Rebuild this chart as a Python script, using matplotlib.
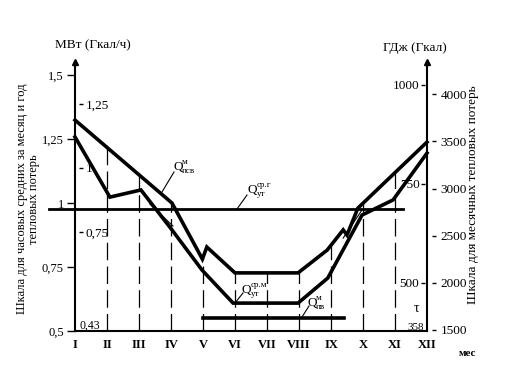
import numpy as np
import matplotlib
matplotlib.use("Agg")
import matplotlib.pyplot as plt

plt.rcParams['font.family'] = ['Liberation Serif', 'DejaVu Serif']

# месяцы
months = np.arange(1, 13)
month_names = ['I', 'II', 'III', 'IV', 'V', 'VI', 'VII', 'VIII', 'IX', 'X', 'XI', 'XII']

# Q^м_псв, МВт (верхняя ломаная)
psv_t = [1.0, 4.03, 4.98, 5.12, 6.0, 7.97, 8.88, 9.38, 9.5, 9.84, 12.0]
psv_q = [1.324, 1.0, 0.781, 0.828, 0.727, 0.727, 0.816, 0.895, 0.875, 0.98, 1.238]

# Q^ср.м_ут, МВт (нижняя ломаная)
ut_t = [1.0, 2.09, 3.06, 4.03, 4.97, 5.94, 7.97, 8.9, 9.97, 10.94, 12.0]
ut_q = [1.258, 1.023, 1.051, 0.895, 0.738, 0.609, 0.609, 0.707, 0.953, 1.012, 1.195]

# тонкие линии возле IV и X
thin_t = [[3.34, 4.06], [9.38, 9.97]]
thin_q = [[0.996, 0.91], [0.863, 0.973]]

# Q^ср.г_ут
year_q = 0.975
year_t = [0.19, 11.25]

# Q^м_пв
pv_q = 0.551
pv_t = [5.0, 9.4]

# шкалы
mw_ticks = [0.5, 0.75, 1.0, 1.25, 1.5]
mw_labels = ['0,5', '0,75', '1', '1,25', '1,5']
gcalh_ticks = [0.75, 1.0, 1.25]
gcalh_labels = ['0,75', '1', '1,25']
gj_ticks = [500, 750, 1000]
gcal_ticks = [1500, 2000, 2500, 3000, 3500, 4000]

W, H = 521, 380
fig = plt.figure(figsize=(W / 100, H / 100), dpi=100)
ax = fig.add_axes([75 / W, 1 - 331 / H, 352 / W, 269 / H])
ax.set_xlim(1, 12)
ytop = 0.5 + 269 / 256
ax.set_ylim(0.5, ytop)


def px(x, y):
    # пиксели картинки -> координаты осей
    return 1 + (x - 75) / 32, 0.5 + (331 - y) / 256


# пунктирные вертикали по месяцам
for m in months[1:11]:
    top = np.interp(m, psv_t, psv_q)
    ax.plot([m, m], [0.5, top], color='k', lw=0.9, dashes=(14, 5))

ax.plot(psv_t, psv_q, color='k', lw=2.6, solid_joinstyle='miter', clip_on=False)
ax.plot(ut_t, ut_q, color='k', lw=2.6, solid_joinstyle='miter', clip_on=False)
for tt, qq in zip(thin_t, thin_q):
    ax.plot(tt, qq, color='k', lw=0.8)
ax.plot(year_t, [year_q, year_q], color='k', lw=2.0, clip_on=False)
ax.plot(pv_t, [pv_q, pv_q], color='k', lw=2.6)

# оси
for s in ['left', 'right', 'bottom']:
    ax.spines[s].set_linewidth(1.5)
ax.spines['top'].set_visible(False)
ax.plot([1, 12], [ytop, ytop], ls='none', marker='^', ms=5, color='k', clip_on=False)

ax.set_xticks(months, month_names, fontweight='bold')
ax.tick_params(axis='x', length=0, pad=6, labelsize=9)
ax.set_yticks(mw_ticks, mw_labels)
ax.tick_params(axis='y', direction='out', length=6, width=1, pad=2, labelsize=9)

sec1 = ax.secondary_yaxis(4 / 352, functions=(lambda q: q - 0.137, lambda g: g + 0.137))
sec1.set_alignment('right')
sec1.set_ticks(gcalh_ticks, gcalh_labels)
sec1.spines[:].set_visible(False)
sec1.tick_params(direction='out', length=3, width=1, pad=2, labelsize=9.5)

sec2 = ax.secondary_yaxis(1 - 2 / 352,
                          functions=(lambda q: ((q - 0.5) * 256 + 149.7) / 0.396,
                                     lambda v: 0.5 + (0.396 * v - 149.7) / 256))
sec2.set_alignment('left')
sec2.set_ticks(gj_ticks, [str(v) for v in gj_ticks])
sec2.spines[:].set_visible(False)
sec2.tick_params(direction='out', length=3, width=1, pad=1, labelsize=9.5)

sec3 = ax.secondary_yaxis(1 + 5 / 352,
                          functions=(lambda q: ((q - 0.5) * 256 + 139.7) / 0.09406,
                                     lambda v: 0.5 + (0.09406 * v - 139.7) / 256))
sec3.set_ticks(gcal_ticks, [str(v) for v in gcal_ticks])
sec3.spines[:].set_visible(False)
sec3.tick_params(direction='out', length=3, width=1, pad=3, labelsize=9.5)

# подписи кривых
def q_label(q, sup, sub, leader):
    x, y = q
    fig.text(x / W, 1 - y / H, 'Q', fontsize=9.5, ha='left', va='baseline')
    fig.text((x + 9) / W, 1 - (y - 6) / H, sup, fontsize=6.5, ha='left', va='baseline')
    fig.text((x + 9) / W, 1 - (y + 3) / H, sub, fontsize=6.5, ha='left', va='baseline')
    (x0, y0), (x1, y1) = px(*leader[0]), px(*leader[1])
    ax.plot([x0, x1], [y0, y1], color='k', lw=0.8, clip_on=False)


q_label((173, 170), 'м', 'псв', ((162, 192), (174, 172)))
q_label((248, 193), 'ср.г', 'ут', ((237, 209), (247, 195)))
q_label((242, 293), 'ср.м', 'ут', ((235, 303), (243, 293)))
q_label((307, 306), 'м', 'пв', ((302, 317), (309, 306)))

fig.text(93 / W, 1 - 45 / H, 'МВт (Гкал/ч)', ha='center', va='center', fontsize=9.5)
fig.text(415 / W, 1 - 48 / H, 'ГДж (Гкал)', ha='center', va='center', fontsize=9.5)
fig.text(28 / W, 1 - 199 / H, 'Шкала для часовых средних за месяц и год\nтепловых потерь',
         rotation=90, ha='center', va='center', fontsize=9, linespacing=1.0,
         multialignment='center')
fig.text(473 / W, 1 - 195 / H, 'Шкала для месячных тепловых потерь',
         rotation=90, ha='center', va='center', fontsize=9.5)
fig.text(416 / W, 1 - 308 / H, 'τ', ha='center', va='center', fontsize=10)
fig.text(424 / W, 1 - 327 / H, '358', ha='right', va='center', fontsize=8)
fig.text(79 / W, 1 - 326 / H, '0,43', ha='left', va='center', fontsize=8.5)
fig.text(468 / W, 1 - 353 / H, 'мес', ha='center', va='center', fontsize=8,
         fontweight='bold')

fig.savefig('out.png', dpi=100, facecolor='white')
